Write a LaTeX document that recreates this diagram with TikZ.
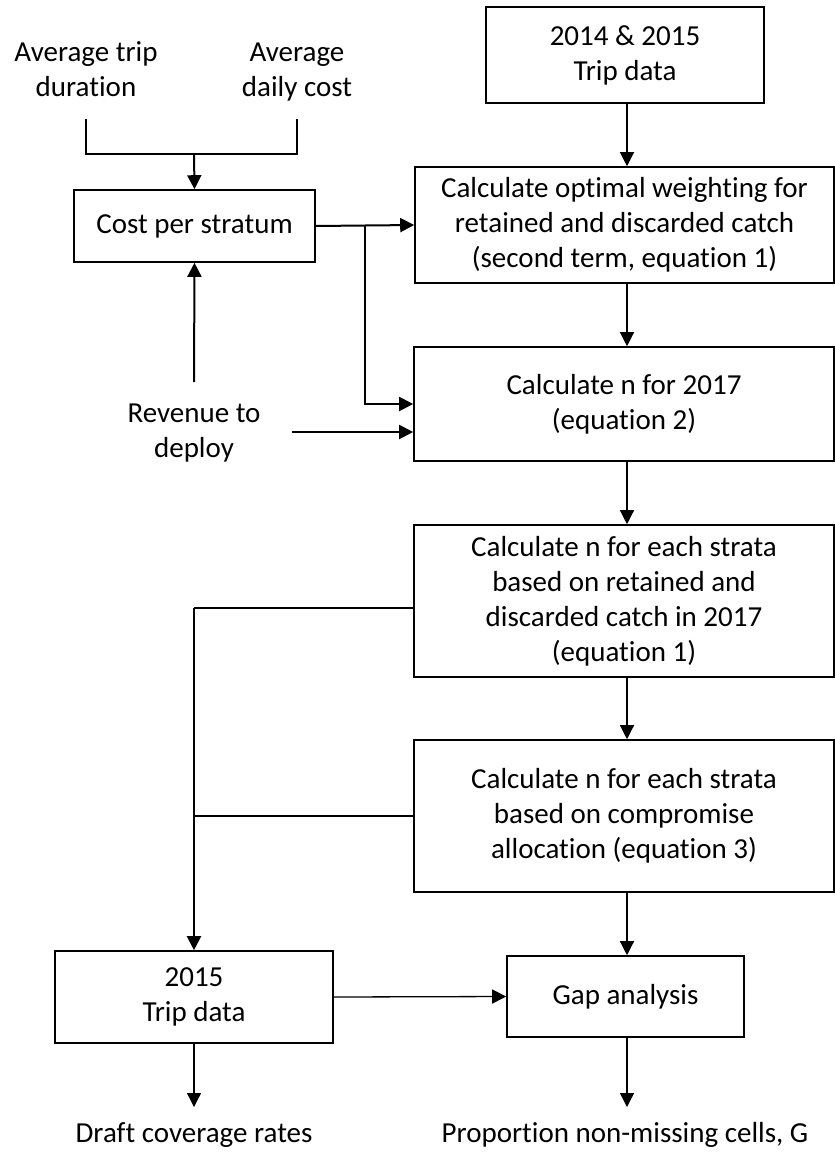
\documentclass[tikz,border=0pt]{standalone}
\usepackage{fontspec}
\setmainfont{Carlito}[Ligatures=NoCommon, Contextuals=NoAlternate]
\usetikzlibrary{arrows.meta, positioning, calc}

\tikzset{
  box/.style={draw, line width=1.6pt, inner sep=0pt, align=center},
  txt/.style={align=center, inner sep=0pt},
  arr/.style={-{Triangle[length=14pt,width=14pt]}, line width=1.3pt},
  thk/.style={line width=2pt}
}

\begin{document}
\fontsize{29}{35}\selectfont
\begin{tikzpicture}[x=1pt, y=-1pt]
\useasboundingbox (0,0) rectangle (835,1154);

% inputs on the left
\node[txt] (avgtrip) at (86,72) {Average trip\strut\\duration\strut};
\node[txt] (avgcost) at (297,72) {Average\strut\\daily cost\strut};
\node[box, minimum width=241pt, minimum height=72pt] (cost) at (194.5,226) {Cost per stratum};
\node[txt] (rev) at (194,433) {Revenue to\strut\\deploy\strut};

% main column
\node[box, minimum width=278pt, minimum height=96pt] (trip1415) at (625,55) {2014 \& 2015\\Trip data};
\node[box, minimum width=419pt, minimum height=116pt] (optw) at (624.5,225) {Calculate optimal weighting for\\retained and discarded catch\\(second term, equation 1)};
\node[box, minimum width=420pt, minimum height=114pt] (n2017) at (624,404) {Calculate n for 2017\\(equation 2)};
\node[box, minimum width=420pt, minimum height=152pt] (nret) at (624,601) {Calculate n for each strata\\based on retained and\\discarded catch in 2017\\(equation 1)};
\node[box, minimum width=420pt, minimum height=152pt] (ncomp) at (624,816) {Calculate n for each strata\\based on compromise\\allocation (equation 3)};

% bottom row
\node[box, minimum width=278pt, minimum height=92pt] (trip15) at (194,997) {2015\\Trip data};
\node[box, minimum width=237pt, minimum height=81pt] (gap) at (625.5,996.5) {Gap analysis};
\node[txt] (draft) at (194,1135) {Draft coverage rates\strut};
\node[txt] (prop) at (625,1135) {Proportion non-missing cells, G\strut};

% junctions
\coordinate (jtop) at (194,154);
\coordinate (jbr) at (365,226);
\coordinate (revout) at (292,432);
\coordinate (jleft) at (194,608);
\coordinate (trtop) at (86,119);
\coordinate (cstop) at (297,119);
\coordinate (revtop) at (194,382);

% cost inputs
\draw[thk] (trtop) |- (jtop) -| (cstop);
\draw[arr, thk] (jtop) -- (cost.north);
\draw[arr, thk] (revtop) -- (cost.south);

% cost to the calculations
\draw[arr, thk] (cost.east) -- (optw.west);
\draw[arr, thk] (jbr) |- (n2017.west);
\draw[arr, thk] (revout) -- (revout -| n2017.west);

% down the main column
\draw[arr] (trip1415.south -| 627,0) -- (optw.north -| 627,0);
\draw[arr] (optw.south -| 627,0) -- (n2017.north -| 627,0);
\draw[arr] (n2017.south -| 627,0) -- (nret.north -| 627,0);
\draw[arr] (nret.south -| 627,0) -- (ncomp.north -| 627,0);
\draw[arr] (ncomp.south -| 627,0) -- (gap.north -| 627,0);

% left branch to the 2015 data
\draw[thk] ([yshift=-7pt]nret.west) -- (jleft);
\draw[thk] (ncomp.west) -- (ncomp.west -| jleft);
\draw[arr, thk] (jleft) -- (trip15.north);

% outputs
\draw[arr] (trip15.east) -- (gap.west);
\draw[arr] (trip15.south) -- (194,1107);
\draw[arr] (gap.south -| 627,0) -- (627,1107);
\end{tikzpicture}
\end{document}
